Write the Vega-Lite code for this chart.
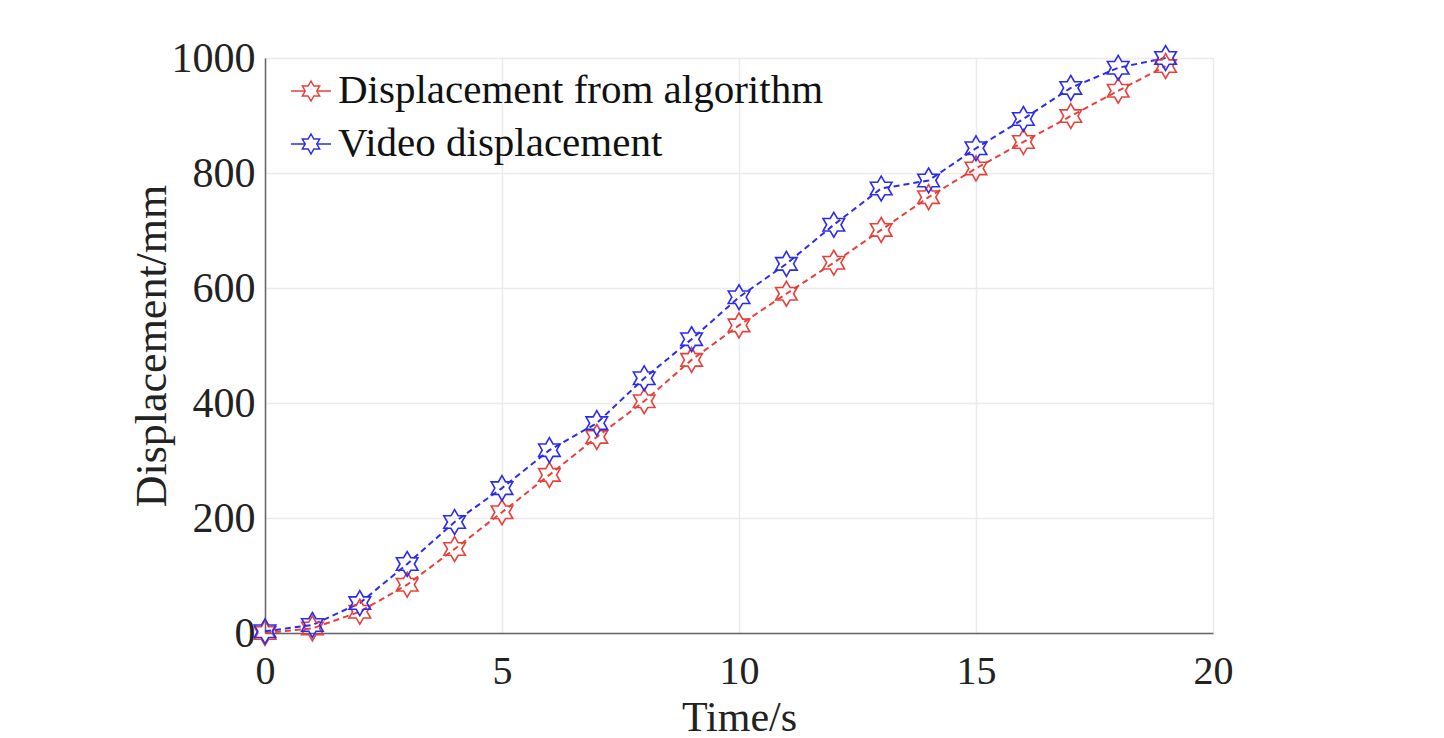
{
  "$schema": "https://vega.github.io/schema/vega-lite/v6.json",
  "width": 948,
  "height": 575,
  "autosize": {"type": "none"},
  "padding": {"left": 265, "top": 58, "right": 231, "bottom": 105},
  "background": "white",
  "config": {
    "view": {"stroke": null},
    "font": "Liberation Serif"
  },
  "data": {
    "values": [
      {"t": 0, "d": 0, "s": "Displacement from algorithm"},
      {"t": 1, "d": 8, "s": "Displacement from algorithm"},
      {"t": 2, "d": 37, "s": "Displacement from algorithm"},
      {"t": 3, "d": 84, "s": "Displacement from algorithm"},
      {"t": 4, "d": 146, "s": "Displacement from algorithm"},
      {"t": 5, "d": 210, "s": "Displacement from algorithm"},
      {"t": 6, "d": 275, "s": "Displacement from algorithm"},
      {"t": 7, "d": 341, "s": "Displacement from algorithm"},
      {"t": 8, "d": 403, "s": "Displacement from algorithm"},
      {"t": 9, "d": 475, "s": "Displacement from algorithm"},
      {"t": 10, "d": 535, "s": "Displacement from algorithm"},
      {"t": 11, "d": 590, "s": "Displacement from algorithm"},
      {"t": 12, "d": 644, "s": "Displacement from algorithm"},
      {"t": 13, "d": 701, "s": "Displacement from algorithm"},
      {"t": 14, "d": 758, "s": "Displacement from algorithm"},
      {"t": 15, "d": 808, "s": "Displacement from algorithm"},
      {"t": 16, "d": 854, "s": "Displacement from algorithm"},
      {"t": 17, "d": 899, "s": "Displacement from algorithm"},
      {"t": 18, "d": 943, "s": "Displacement from algorithm"},
      {"t": 19, "d": 986, "s": "Displacement from algorithm"},
      {"t": 0, "d": 3, "s": "Video displacement"},
      {"t": 1, "d": 14, "s": "Video displacement"},
      {"t": 2, "d": 52, "s": "Video displacement"},
      {"t": 3, "d": 120, "s": "Video displacement"},
      {"t": 4, "d": 193, "s": "Video displacement"},
      {"t": 5, "d": 252, "s": "Video displacement"},
      {"t": 6, "d": 318, "s": "Video displacement"},
      {"t": 7, "d": 365, "s": "Video displacement"},
      {"t": 8, "d": 443, "s": "Video displacement"},
      {"t": 9, "d": 511, "s": "Video displacement"},
      {"t": 10, "d": 584, "s": "Video displacement"},
      {"t": 11, "d": 642, "s": "Video displacement"},
      {"t": 12, "d": 710, "s": "Video displacement"},
      {"t": 13, "d": 773, "s": "Video displacement"},
      {"t": 14, "d": 787, "s": "Video displacement"},
      {"t": 15, "d": 843, "s": "Video displacement"},
      {"t": 16, "d": 894, "s": "Video displacement"},
      {"t": 17, "d": 948, "s": "Video displacement"},
      {"t": 18, "d": 983, "s": "Video displacement"},
      {"t": 19, "d": 1000, "s": "Video displacement"}
    ]
  },
  "encoding": {
    "x": {
      "field": "t", "type": "quantitative",
      "scale": {"domain": [0, 20], "nice": false},
      "axis": {
        "title": "Time/s", "values": [0, 5, 10, 15, 20], "format": "d",
        "grid": true, "gridColor": "#ebebeb", "gridWidth": 1.5,
        "domainColor": "#666", "domainWidth": 1.5,
        "ticks": false, "labelPadding": 18, "labelFlush": false, "labelOverlap": false,
        "labelFont": "Liberation Serif", "labelFontSize": 40, "labelColor": "#222",
        "titleFont": "Liberation Serif", "titleFontSize": 42, "titleFontWeight": "normal", "titleColor": "#222",
        "titleY": 84, "titleBaseline": "middle"
      }
    },
    "y": {
      "field": "d", "type": "quantitative",
      "scale": {"domain": [0, 1000], "nice": false},
      "axis": {
        "title": "Displacement/mm", "values": [0, 200, 400, 600, 800, 1000], "format": "d",
        "grid": true, "gridColor": "#ebebeb", "gridWidth": 1.5,
        "domainColor": "#666", "domainWidth": 1.5,
        "ticks": false, "labelPadding": 10, "labelFlush": false, "labelOverlap": false,
        "labelFont": "Liberation Serif", "labelFontSize": 42, "labelColor": "#222",
        "titleFont": "Liberation Serif", "titleFontSize": 44, "titleFontWeight": "normal", "titleColor": "#222",
        "titleX": -113, "titleBaseline": "middle"
      }
    },
    "color": {
      "field": "s", "type": "nominal",
      "scale": {"domain": ["Displacement from algorithm", "Video displacement"], "range": ["#e8403a", "#2b2bee"]},
      "legend": {
        "title": null, "orient": "none", "legendX": 25, "legendY": 12,
        "padding": 0,
        "symbolType": "M-1,0L-0.289,0M0.289,0L1,0M0,-0.5L0.144,-0.25L0.433,-0.25L0.289,0L0.433,0.25L0.144,0.25L0,0.5L-0.144,0.25L-0.433,0.25L-0.289,0L-0.433,-0.25L-0.144,-0.25Z",
        "symbolSize": 1600, "symbolStrokeWidth": 1.5, "symbolFillColor": "transparent",
        "labelFont": "Liberation Serif", "labelFontSize": 41, "labelColor": "#111",
        "labelOffset": 6, "rowPadding": 12, "labelLimit": 800
      }
    }
  },
  "layer": [
    {
      "mark": {"type": "line", "strokeDash": [6, 4], "strokeWidth": 2}
    },
    {
      "mark": {
        "type": "point", "filled": false, "size": 620, "strokeWidth": 1.6, "opacity": 1,
        "shape": "M0,-1L0.289,-0.5L0.866,-0.5L0.577,0L0.866,0.5L0.289,0.5L0,1L-0.289,0.5L-0.866,0.5L-0.577,0L-0.866,-0.5L-0.289,-0.5Z"
      }
    }
  ]
}
